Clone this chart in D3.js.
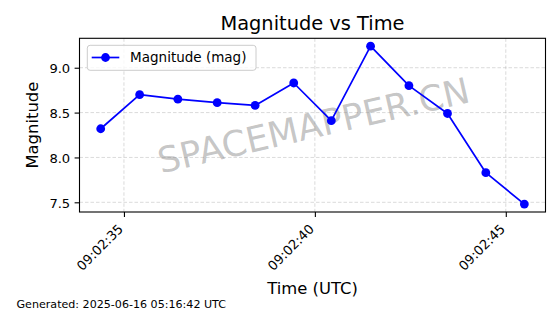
<!DOCTYPE html>
<html>
<head>
<meta charset="utf-8">
<script src="https://cdn.jsdelivr.net/npm/d3@7"></script>
<style>
  body { margin: 0; background: #fff; }
  svg { font-family: "DejaVu Sans", sans-serif; }
</style>
</head>
<body>
<svg id="chart" width="560" height="314"></svg>
<script>
const times = [
  "2025-06-16T09:02:34.391Z", "2025-06-16T09:02:35.411Z", "2025-06-16T09:02:36.412Z",
  "2025-06-16T09:02:37.442Z", "2025-06-16T09:02:38.436Z", "2025-06-16T09:02:39.446Z",
  "2025-06-16T09:02:40.431Z", "2025-06-16T09:02:41.459Z", "2025-06-16T09:02:42.463Z",
  "2025-06-16T09:02:43.473Z", "2025-06-16T09:02:44.477Z", "2025-06-16T09:02:45.486Z"
];
const magnitudes = [8.32, 8.70, 8.65, 8.61, 8.58, 8.83, 8.41, 9.24, 8.80, 8.49, 7.83, 7.48];
const yTicks = [7.5, 8.0, 8.5, 9.0];

const seriesName = "Magnitude (mag)";
const titleText = "Magnitude vs Time";
const xLabel = "Time (UTC)";
const yLabel = "Magnitude";
const footerText = "Generated: 2025-06-16 05:16:42 UTC";
const watermark = "SPACEMAPPER.CN";

let data = times.map((t, i) => ({ t: d3.isoParse(t), v: magnitudes[i] }));

// plot area
let plot = { left: 79.5, right: 545.5, top: 38.3, bottom: 212 };

let svg = d3.select("#chart");

// matplotlib style 5% margins
function padded(ext) {
  let span = ext[1] - ext[0];
  return [ext[0] - span * 0.05, ext[1] + span * 0.05];
}

let tExt = d3.extent(data, d => +d.t);
let x = d3.scaleUtc()
  .domain(padded(tExt).map(d => new Date(d)))
  .range([plot.left, plot.right]);

let y = d3.scaleLinear()
  .domain(padded(d3.extent(data, d => d.v)))
  .range([plot.bottom, plot.top]);

let xTicks = x.ticks(d3.utcSecond.every(5));

// grid lines
let grid = svg.append("g").attr("class", "grid")
  .attr("stroke", "#b0b0b0")
  .attr("stroke-opacity", 0.6)
  .attr("stroke-width", 0.8)
  .attr("stroke-dasharray", "3.5,2");

grid.selectAll(".gx").data(xTicks).enter().append("line")
  .attr("x1", d => x(d)).attr("x2", d => x(d))
  .attr("y1", plot.top).attr("y2", plot.bottom);

grid.selectAll(".gy").data(yTicks).enter().append("line")
  .attr("x1", plot.left).attr("x2", plot.right)
  .attr("y1", d => y(d)).attr("y2", d => y(d));

// watermark
svg.append("text")
  .attr("transform", `translate(${(plot.left + plot.right) / 2 + 1},${(plot.top + plot.bottom) / 2}) rotate(-13)`)
  .attr("text-anchor", "middle")
  .attr("dy", "0.36em")
  .attr("font-size", 35.5)
  .attr("fill", "#808080")
  .attr("fill-opacity", 0.45)
  .text(watermark);

// the series
let line = d3.line().x(d => x(d.t)).y(d => y(d.v));

svg.append("path")
  .datum(data)
  .attr("d", line)
  .attr("fill", "none")
  .attr("stroke", "#0000ff")
  .attr("stroke-width", 1.7)
  .attr("stroke-linejoin", "round");

svg.selectAll(".dot").data(data).enter().append("circle")
  .attr("class", "dot")
  .attr("cx", d => x(d.t))
  .attr("cy", d => y(d.v))
  .attr("r", 4.4)
  .attr("fill", "#0000ff");

// frame
svg.append("rect")
  .attr("x", plot.left).attr("y", plot.top)
  .attr("width", plot.right - plot.left)
  .attr("height", plot.bottom - plot.top)
  .attr("fill", "none")
  .attr("stroke", "#000")
  .attr("stroke-width", 1.1);

// y axis
let yAxis = d3.axisLeft(y).tickValues(yTicks).tickFormat(d3.format(".1f"))
  .tickSize(4.9).tickPadding(4.4);
let gy = svg.append("g")
  .attr("transform", `translate(${plot.left},0)`)
  .call(yAxis);
gy.select(".domain").remove();
gy.selectAll("line").attr("stroke-width", 1.1);
gy.selectAll("text")
  .attr("font-size", 13.1)
  .attr("font-family", "DejaVu Sans")
  .attr("fill", "#000")
  .attr("dy", "0.36em");

// x axis
let xAxis = d3.axisBottom(x).tickValues(xTicks).tickFormat(d3.utcFormat("%H:%M:%S"))
  .tickSize(4.9);
let gx = svg.append("g")
  .attr("transform", `translate(0,${plot.bottom})`)
  .call(xAxis);
gx.select(".domain").remove();
gx.selectAll("line").attr("stroke-width", 1.1);
gx.selectAll("text")
  .attr("font-size", 13.1)
  .attr("font-family", "DejaVu Sans")
  .attr("fill", "#000")
  .attr("text-anchor", "end")
  .attr("y", 0).attr("dy", 0)
  .attr("transform", "translate(-0.5,17.8) rotate(-45)");

// title and labels
svg.append("text")
  .attr("x", (plot.left + plot.right) / 2).attr("y", 30)
  .attr("text-anchor", "middle")
  .attr("font-size", 19.4)
  .text(titleText);

svg.append("text")
  .attr("x", (plot.left + plot.right) / 2).attr("y", 294)
  .attr("text-anchor", "middle")
  .attr("font-size", 16.4)
  .text(xLabel);

svg.append("text")
  .attr("transform", `translate(38,${(plot.top + plot.bottom) / 2}) rotate(-90)`)
  .attr("text-anchor", "middle")
  .attr("font-size", 16.4)
  .text(yLabel);

svg.append("text")
  .attr("x", 16.5).attr("y", 308.3)
  .attr("font-size", 11.1)
  .text(footerText);

// legend
let legend = svg.append("g").attr("transform", `translate(${plot.left + 7.8},${plot.top + 7})`);
legend.append("rect")
  .attr("width", 168.7).attr("height", 25)
  .attr("rx", 2.8)
  .attr("fill", "#fff").attr("fill-opacity", 0.8)
  .attr("stroke", "#cccccc").attr("stroke-width", 1);
legend.append("line")
  .attr("x1", 4.4).attr("x2", 32).attr("y1", 12.2).attr("y2", 12.2)
  .attr("stroke", "#0000ff").attr("stroke-width", 1.7);
legend.append("circle")
  .attr("cx", 18.2).attr("cy", 12.2).attr("r", 4.4)
  .attr("fill", "#0000ff");
legend.append("text")
  .attr("x", 42.8).attr("y", 12.2).attr("dy", "0.36em")
  .attr("font-size", 13.5)
  .text(seriesName);
</script>
</body>
</html>
